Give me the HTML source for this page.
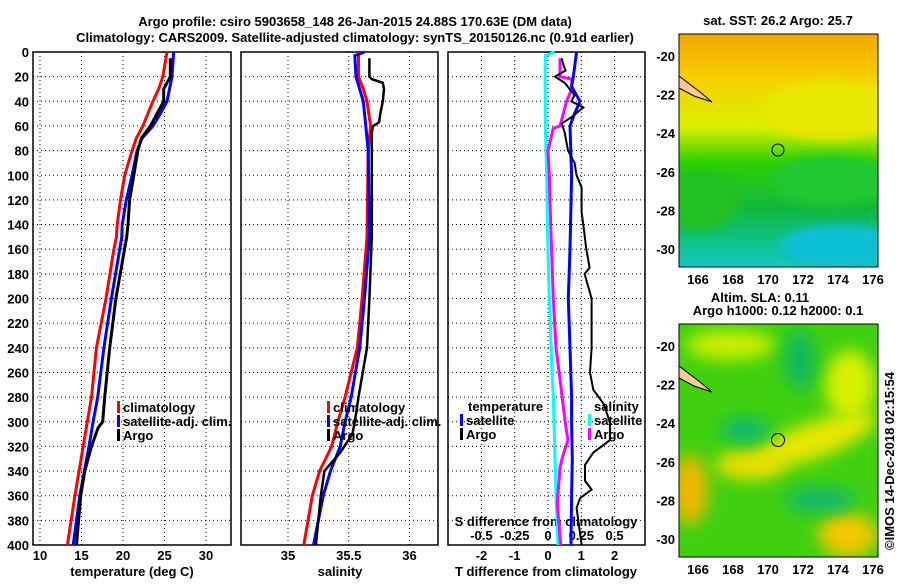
<!DOCTYPE html>
<html><head><meta charset="utf-8"><style>
body{margin:0;background:#fff}
svg text{font-family:"Liberation Sans",sans-serif;font-weight:bold;font-size:13px;fill:#000}
</style></head><body>
<svg id="c" width="900" height="580" viewBox="0 0 900 580" xmlns="http://www.w3.org/2000/svg">
<defs>
<filter id="bl" x="-50%" y="-50%" width="200%" height="200%"><feGaussianBlur stdDeviation="8"/></filter>
<filter id="bl2" x="-50%" y="-50%" width="200%" height="200%"><feGaussianBlur stdDeviation="5"/></filter>
<clipPath id="m1"><rect x="679" y="34" width="199" height="233"/></clipPath>
<clipPath id="m2"><rect x="679" y="324" width="199" height="233"/></clipPath>
<linearGradient id="sst" x1="0" y1="0" x2="0" y2="1">
<stop offset="0" stop-color="#f0a800"/><stop offset="0.2" stop-color="#f8d000"/><stop offset="0.4" stop-color="#d8f000"/>
<stop offset="0.55" stop-color="#30d000"/><stop offset="0.75" stop-color="#10b840"/><stop offset="1" stop-color="#10c8c0"/></linearGradient>
</defs>
<text x="355" y="26" text-anchor="middle" font-size="14">Argo profile: csiro 5903658_148 26-Jan-2015 24.88S 170.63E (DM data)</text>
<text x="355" y="42" text-anchor="middle" font-size="14">Climatology: CARS2009. Satellite-adjusted climatology: synTS_20150126.nc (0.91d earlier)</text>
<g id="g"></g>
<g clip-path="url(#m1)">
<rect x="679" y="34" width="199" height="233" fill="url(#sst)"/>
<ellipse cx="830" cy="110" rx="70" ry="30" fill="#e8e800" filter="url(#bl2)"/>
<ellipse cx="830" cy="180" rx="60" ry="25" fill="#20c830" filter="url(#bl2)"/>
<ellipse cx="700" cy="200" rx="40" ry="30" fill="#20c020" filter="url(#bl2)"/>
<ellipse cx="840" cy="245" rx="60" ry="20" fill="#10c0d8" filter="url(#bl2)"/>
<polygon points="679,76 700,92 712,102 694,96 679,88" fill="#f8c898" stroke="#000"/>
<circle cx="778" cy="150" r="6" fill="none" stroke="#000"/>
</g>
<rect x="679" y="34" width="199" height="233" fill="none" stroke="#000"/>
<text x="778" y="25" text-anchor="middle">sat. SST: 26.2 Argo: 25.7</text>
<g clip-path="url(#m2)">
<rect x="679" y="324" width="199" height="233" fill="#40d010"/>
<ellipse cx="730" cy="345" rx="45" ry="15" fill="#c8f000" filter="url(#bl)"/>
<ellipse cx="815" cy="440" rx="65" ry="18" fill="#e8e800" filter="url(#bl)" transform="rotate(-20 815 440)"/>
<ellipse cx="850" cy="385" rx="25" ry="35" fill="#d8f000" filter="url(#bl)"/>
<ellipse cx="690" cy="490" rx="18" ry="35" fill="#f0b800" filter="url(#bl)"/>
<ellipse cx="750" cy="465" rx="35" ry="15" fill="#e8e000" filter="url(#bl)"/>
<ellipse cx="848" cy="535" rx="30" ry="22" fill="#f0c800" filter="url(#bl)"/>
<ellipse cx="745" cy="430" rx="25" ry="12" fill="#10b870" filter="url(#bl)"/>
<ellipse cx="820" cy="500" rx="35" ry="12" fill="#10b870" filter="url(#bl)"/>
<ellipse cx="800" cy="360" rx="15" ry="30" fill="#10b860" filter="url(#bl)"/>
<polygon points="679,366 700,382 712,392 694,386 679,378" fill="#f8c898" stroke="#000"/>
<circle cx="778" cy="440" r="6.5" fill="none" stroke="#000"/>
</g>
<rect x="679" y="324" width="199" height="233" fill="none" stroke="#000"/>
<text x="760" y="302" text-anchor="middle" font-size="12">Altim. SLA: 0.11</text>
<text x="778" y="315" text-anchor="middle" font-size="12">Argo h1000: 0.12 h2000: 0.1</text>
<text transform="translate(894,550) rotate(-90)" font-weight="normal" font-size="12">©IMOS 14-Dec-2018 02:15:54</text>
</svg>
<script>
const depthTicks=[0,20,40,60,80,100,120,140,160,180,200,220,240,260,280,300,320,340,360,380,400];
const tempTicks=[10,15,20,25,30];
const salTicks=[35,35.5,36];
const tdiffTicks=[-2,-1,0,1,2];
const sdiffTicks=[-0.5,-0.25,0,0.25,0.5];
const sdiffLabels=["-0.5","-0.25","0","0.25","0.5"];
// temperature
const climTDepth=[0,20,30,40,50,60,70,80,100,120,140,150,160,200,240,280,300,320,360,400];
const climTemp=[25.3,24.8,24.3,23.6,23.0,22.4,21.6,21.1,20.2,19.7,19.3,19.2,18.9,17.95,16.8,16.2,15.7,15.2,14.2,13.3];
const satTDepth=[0,20,40,50,60,70,80,100,120,140,150,200,240,280,300,320,360,400];
const satTemp=[26.1,25.9,25.3,24.5,23.6,22.3,21.7,21.1,20.4,19.9,19.85,18.6,17.7,16.95,16.4,15.9,14.8,14.0];
const argoTDepth=[5,20,25,30,40,60,70,80,100,120,140,150,200,240,280,300,305,320,330,340,360,400];
const argoTemp=[25.7,25.7,25.3,24.9,24.9,23.3,22.2,21.8,21.3,20.8,20.6,20.45,19.15,18.4,17.8,17.55,17.0,16.2,15.8,15.4,14.9,14.4];
// salinity
const climSDepth=[0,20,30,40,60,80,150,200,240,280,300,320,340,360,400];
const climSal=[35.58,35.58,35.62,35.65,35.68,35.66,35.65,35.61,35.57,35.47,35.41,35.36,35.26,35.2,35.13];
const satSDepth=[0,3,20,40,60,80,150,200,240,280,300,320,340,360,400];
const satSal=[35.63,35.55,35.56,35.62,35.64,35.66,35.67,35.63,35.59,35.52,35.47,35.43,35.35,35.29,35.21];
const argoSDepth=[5,20,22,25,30,40,50,57,60,65,80,150,200,240,280,300,310,325,340,360,400];
const argoSal=[35.67,35.67,35.69,35.78,35.79,35.78,35.76,35.75,35.70,35.69,35.69,35.69,35.67,35.65,35.58,35.55,35.53,35.43,35.30,35.27,35.23];
// differences
const cyanDepth=[0,3,20,60,100,140,200,260,280,320,360,400];
const satSdiff=[0.05,-0.02,-0.022,-0.02,-0.01,-0.005,0.01,0.03,0.04,0.05,0.06,0.075];
const magDepth=[5,20,22,30,40,60,62,80,100,140,200,240,274,301,315,328,337,366,400];
const argoSdiff=[0.09,0.09,0.178,0.178,0.14,0.09,0.04,0.0,0.01,0.02,0.04,0.06,0.1,0.13,0.15,0.11,0.09,0.07,0.095];
const blueDepth=[0,20,28,40,50,60,100,160,200,240,280,301,330,360,400];
const satTdiff=[0.86,0.76,0.71,0.96,0.8,0.66,0.71,0.66,0.61,0.66,0.71,0.71,0.73,0.71,0.69];
const blackDepth=[5,10,15,20,25,35,40,45,53,58,65,80,90,100,110,130,140,160,175,180,200,240,260,274,285,300,315,325,335,348,355,362,370,400];
const argoTdiff=[0.41,0.46,0.53,0.21,0.5,0.8,0.7,1.06,0.7,0.41,0.5,0.6,0.8,0.86,1.01,1.01,1.06,1.15,1.25,1.1,1.31,1.31,1.26,1.36,1.66,1.86,1.86,1.36,1.11,1.11,1.31,0.96,0.86,1.01];
// layout
const yTop=52,yBot=545;
const yD=d=>yTop+d*(yBot-yTop)/400;
const P1={x0:33,x1:231,f:v=>40+(v-10)*8.3};
const P2={x0:241,x1:438,f:v=>288+(v-35)*121.5};
const P3={x0:448,x1:645,f:v=>548+v*33.3};
const sx=v=>548+v*133.2;
const NS='http://www.w3.org/2000/svg';
const gRoot=document.getElementById('g');
function el(t,a,p){const e=document.createElementNS(NS,t);for(const k in a)e.setAttribute(k,a[k]);(p||gRoot).appendChild(e);return e;}
function txt(x,y,s,anchor,name){const e=el('text',{x:x,y:y,'text-anchor':anchor||'start'});e.textContent=s;

return e;}
function panel(P,xt,name){
  const grp=el('g',{});
  
  
  depthTicks.forEach(d=>{if(d>0&&d<400)el('line',{x1:P.x0,x2:P.x1,y1:yD(d),y2:yD(d),stroke:'#000','stroke-dasharray':'1 3'},grp);});
  xt.forEach(v=>{const x=P.f(v);el('line',{x1:x,x2:x,y1:yTop,y2:yBot,stroke:'#000','stroke-dasharray':'1 3'},grp);});
  el('rect',{x:P.x0,y:yTop,width:P.x1-P.x0,height:yBot-yTop,fill:'none',stroke:'#000','stroke-width':1.5},grp);
  return grp;
}
function line(xs,ds,fx,col,name,w){
  const pts=xs.map((v,i)=>fx(v).toFixed(1)+','+yD(ds[i]).toFixed(1)).join(' ');
  const e=el('polyline',{points:pts,fill:'none',stroke:col,'stroke-width':w||3});
  
  
}
panel(P1,tempTicks,'temperature-panel');
panel(P2,salTicks,'salinity-panel');
panel(P3,tdiffTicks,'difference-panel');
depthTicks.forEach(d=>txt(29,yD(d)+5,String(d),'end','depth-tick-label'));
tempTicks.forEach(v=>txt(P1.f(v),560,String(v),'middle','temp-tick-label'));
salTicks.forEach(v=>txt(P2.f(v),560,String(v),'middle','sal-tick-label'));
tdiffTicks.forEach(v=>txt(P3.f(v),560,String(v),'middle','tdiff-tick-label'));
sdiffTicks.forEach((v,i)=>txt(sx(v),540,sdiffLabels[i],'middle','sdiff-tick-label'));
txt(132,576,'temperature (deg C)','middle','x-axis-title-temperature');
txt(340,576,'salinity','middle','x-axis-title-salinity');
txt(546,576,'T difference from climatology','middle','x-axis-title-tdiff');
txt(546,526,'S difference from climatology','middle','x-axis-title-sdiff');
line(climTemp,climTDepth,P1.f,'#f00','temp-climatology-line');
line(satTemp,satTDepth,P1.f,'#00f','temp-satellite-line');
line(argoTemp,argoTDepth,P1.f,'#000','temp-argo-line');
line(climSal,climSDepth,P2.f,'#f00','sal-climatology-line');
line(satSal,satSDepth,P2.f,'#00f','sal-satellite-line');
line(argoSal,argoSDepth,P2.f,'#000','sal-argo-line',2.5);
line(satSdiff,cyanDepth,sx,'#0ff','sdiff-satellite-line');
line(argoSdiff,magDepth,sx,'#f0f','sdiff-argo-line');
line(satTdiff,blueDepth,P3.f,'#00f','tdiff-satellite-line');
line(argoTdiff,blackDepth,P3.f,'#000','tdiff-argo-line',2);
function leg(x,y,col,s,name){el('rect',{x:x,y:y-11,width:3,height:12,fill:col});txt(x+6,y,s,'start',name);}
leg(117,412,'#f00','climatology','legend-climatology');
leg(117,426,'#00f','satellite-adj. clim.','legend-satellite');
leg(117,440,'#000','Argo','legend-argo');
leg(327,412,'#f00','climatology','legend-climatology-2');
leg(327,426,'#00f','satellite-adj. clim.','legend-satellite-2');
leg(327,440,'#000','Argo','legend-argo-2');
txt(468,411,'temperature','start','legend-temperature-heading');
leg(460,425,'#00f','satellite','legend-t-satellite');
leg(460,439,'#000','Argo','legend-t-argo');
txt(594,411,'salinity','start','legend-salinity-heading');
leg(588,425,'#0ff','satellite','legend-s-satellite');
leg(588,439,'#f0f','Argo','legend-s-argo');
const mx=v=>698+(v-166)*17.5;
const lonTicks=[166,168,170,172,174,176];
const latTicks=[-20,-22,-24,-26,-28,-30];
function mapAxes(y0,y1,lat20){
  lonTicks.forEach(v=>{el('line',{x1:mx(v),x2:mx(v),y1:y0,y2:y0+4,stroke:'#000'});el('line',{x1:mx(v),x2:mx(v),y1:y1,y2:y1-4,stroke:'#000'});txt(mx(v),y1+17,String(v),'middle','lon-tick-label');});
  latTicks.forEach(v=>{const y=lat20+(-20-v)*19.3;el('line',{x1:679,x2:683,y1:y,y2:y,stroke:'#000'});el('line',{x1:878,x2:874,y1:y,y2:y,stroke:'#000'});txt(675,y+5,String(v),'end','lat-tick-label');});
}
mapAxes(34,267,56);
mapAxes(324,557,346);
</script>
</body></html>
